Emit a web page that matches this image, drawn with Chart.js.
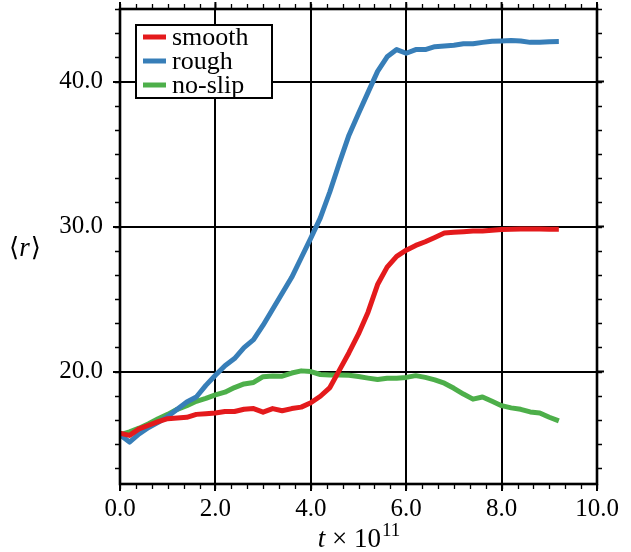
<!DOCTYPE html>
<html lang="en">
<head>
    <meta charset="UTF-8">
    <title>Mean radius over time</title>
    <style>
        html, body {
            margin: 0;
            padding: 0;
            background: #fff;
        }
        #wrap {
            width: 631px;
            height: 552px;
        }
    </style>
    <script src="https://cdn.jsdelivr.net/npm/chart.js"></script>
</head>
<body>
    <div id="wrap"><canvas id="radiusChart" width="631" height="552"></canvas></div>
    <script>
        // time axis (units of 10^11)
        const times = [0.0, 0.2, 0.4, 0.6, 0.8, 1.0, 1.2, 1.4, 1.6, 1.8,
                       2.0, 2.2, 2.4, 2.6, 2.8, 3.0, 3.2, 3.4, 3.6, 3.8,
                       4.0, 4.2, 4.4, 4.6, 4.8, 5.0, 5.2, 5.4, 5.6, 5.8,
                       6.0, 6.2, 6.4, 6.6, 6.8, 7.0, 7.2, 7.4, 7.6, 7.8,
                       8.0, 8.2, 8.4, 8.6, 8.8, 9.0, 9.2];

        const smooth = [15.76, 15.6, 16.05, 16.3, 16.55, 16.75, 16.8, 16.85, 17.05, 17.1,
                        17.15, 17.25, 17.25, 17.4, 17.45, 17.2, 17.45, 17.3, 17.45, 17.55,
                        17.85, 18.3, 18.9, 20.1, 21.3, 22.6, 24.1, 26.0, 27.2, 27.95,
                        28.37, 28.7, 28.95, 29.25, 29.55, 29.6, 29.65, 29.7, 29.7, 29.75,
                        29.8, 29.82, 29.84, 29.84, 29.83, 29.82, 29.82];

        const rough = [15.64, 15.14, 15.7, 16.15, 16.5, 16.9, 17.4, 17.9, 18.25, 19.05,
                       19.75, 20.4, 20.9, 21.65, 22.2, 23.2, 24.3, 25.4, 26.5, 27.85,
                       29.2, 30.6, 32.4, 34.4, 36.3, 37.8, 39.25, 40.7, 41.7, 42.2,
                       41.95, 42.2, 42.2, 42.4, 42.45, 42.5, 42.6, 42.6, 42.7, 42.78,
                       42.8, 42.83, 42.8, 42.7, 42.7, 42.75, 42.76];

        const noSlip = [15.64, 15.85, 16.1, 16.4, 16.75, 17.05, 17.4, 17.65, 17.95, 18.15,
                        18.4, 18.58, 18.9, 19.15, 19.25, 19.65, 19.7, 19.68, 19.9, 20.05,
                        20.0, 19.8, 19.77, 19.77, 19.75, 19.66, 19.55, 19.45, 19.54, 19.54,
                        19.6, 19.72, 19.6, 19.43, 19.2, 18.85, 18.45, 18.1, 18.25, 17.95,
                        17.65, 17.5, 17.4, 17.22, 17.15, 16.85, 16.6];

        const seriesNames = ['smooth', 'rough', 'no-slip'];
        const seriesColors = ['#e41a1c', '#377eb8', '#4daf4a'];

        const xTicks = [0, 2, 4, 6, 8, 10];
        const yTicks = [20, 30, 40];
        const xMinorStep = 1 / 3;
        const yMinorStep = 5 / 3;

        const serif = "'Liberation Serif', 'DejaVu Serif', serif";

        const toPoints = (ys) => ys.map((v, i) => ({ x: times[i], y: v }));

        // frame, minor ticks, axis titles and the inset legend
        const decorations = {
            id: 'decorations',
            afterDraw(chart) {
                const { ctx, chartArea: a, scales: { x, y } } = chart;
                ctx.save();
                ctx.strokeStyle = '#000';

                // minor ticks, all four sides, pointing out
                ctx.lineWidth = 1.3;
                ctx.beginPath();
                for (let i = 0; i <= 30; i++) {
                    const px = Math.round(x.getPixelForValue(i * xMinorStep)) + 0.5;
                    ctx.moveTo(px, a.bottom); ctx.lineTo(px, a.bottom + 5);
                    ctx.moveTo(px, a.top); ctx.lineTo(px, a.top - 5);
                }
                for (let i = 0; i <= 20; i++) {
                    const v = 45 - i * yMinorStep;
                    if (v < y.min) break;
                    const py = Math.round(y.getPixelForValue(v)) + 0.5;
                    ctx.moveTo(a.left, py); ctx.lineTo(a.left - 5, py);
                    ctx.moveTo(a.right, py); ctx.lineTo(a.right + 5, py);
                }
                ctx.stroke();

                // major ticks on top and right
                ctx.lineWidth = 2;
                ctx.beginPath();
                xTicks.forEach(v => {
                    const px = x.getPixelForValue(v);
                    ctx.moveTo(px, a.top); ctx.lineTo(px, a.top - 7);
                });
                yTicks.forEach(v => {
                    const py = y.getPixelForValue(v);
                    ctx.moveTo(a.right, py); ctx.lineTo(a.right + 7, py);
                });
                ctx.stroke();

                // frame
                ctx.lineWidth = 2.6;
                ctx.strokeRect(a.left, a.top, a.right - a.left, a.bottom - a.top);

                // x title: t x 10^11
                ctx.fillStyle = '#000';
                ctx.textBaseline = 'alphabetic';
                const f1 = 'italic 27px ' + serif;
                const f2 = '27px ' + serif;
                const f3 = '19px ' + serif;
                ctx.font = f1; const w1 = ctx.measureText('t').width;
                ctx.font = f2; const w2 = ctx.measureText(' \u00d7 10').width;
                ctx.font = f3; const w3 = ctx.measureText('11').width;
                let tx = (a.left + a.right) / 2 - (w1 + w2 + w3) / 2;
                const ty = 547;
                ctx.font = f1; ctx.fillText('t', tx, ty); tx += w1;
                ctx.font = f2; ctx.fillText(' \u00d7 10', tx, ty); tx += w2;
                ctx.font = f3; ctx.fillText('11', tx + 1, ty - 11);

                // y title: <r>
                const yy = 256;
                let lx = 9;
                ctx.font = "26px 'DejaVu Serif', serif";
                ctx.fillText('\u27e8', lx, yy); lx += ctx.measureText('\u27e8').width;
                ctx.font = f1;
                ctx.fillText('r', lx, yy); lx += ctx.measureText('r').width + 1;
                ctx.font = "26px 'DejaVu Serif', serif";
                ctx.fillText('\u27e9', lx, yy);

                // legend box
                const bx = 136, by = 25, bw = 136, bh = 73;
                ctx.fillStyle = '#fff';
                ctx.fillRect(bx, by, bw, bh);
                ctx.lineWidth = 2;
                ctx.strokeStyle = '#000';
                ctx.strokeRect(bx, by, bw, bh);
                ctx.font = '26px ' + serif;
                ctx.textBaseline = 'middle';
                seriesNames.forEach((name, i) => {
                    const rowY = by + 12 + i * 24;
                    ctx.strokeStyle = seriesColors[i];
                    ctx.lineWidth = 5;
                    ctx.beginPath();
                    ctx.moveTo(143, rowY); ctx.lineTo(166, rowY);
                    ctx.stroke();
                    ctx.fillStyle = '#000';
                    ctx.fillText(name, 172, rowY + 1);
                });
                ctx.restore();
            }
        };

        const ctx = document.getElementById('radiusChart').getContext('2d');
        const radiusChart = new Chart(ctx, {
            type: 'line',
            data: {
                datasets: [
                    { label: seriesNames[0], data: toPoints(smooth), borderColor: seriesColors[0] },
                    { label: seriesNames[1], data: toPoints(rough), borderColor: seriesColors[1] },
                    { label: seriesNames[2], data: toPoints(noSlip), borderColor: seriesColors[2] }
                ]
            },
            options: {
                responsive: false,
                animation: false,
                events: [],
                layout: { padding: { top: 9, right: 34, left: 0, bottom: 0 } },
                elements: {
                    line: { borderWidth: 5, tension: 0, borderJoinStyle: 'round', borderCapStyle: 'butt' },
                    point: { radius: 0 }
                },
                plugins: {
                    legend: { display: false },
                    tooltip: { enabled: false }
                },
                scales: {
                    x: {
                        type: 'linear',
                        min: 0,
                        max: 10,
                        afterBuildTicks: (s) => { s.ticks = xTicks.map(v => ({ value: v })); },
                        afterFit: (s) => {
                            s.height = 68;
                            s.paddingLeft = 0;
                            s.paddingRight = 0;
                        },
                        border: { display: false },
                        grid: { color: '#000', lineWidth: 2, tickLength: 7 },
                        ticks: {
                            color: '#000',
                            padding: 3,
                            maxRotation: 0,
                            font: { family: serif, size: 25 },
                            callback: (v) => Number(v).toFixed(1)
                        }
                    },
                    y: {
                        type: 'linear',
                        min: 12.25,
                        max: 45,
                        afterBuildTicks: (s) => { s.ticks = yTicks.map(v => ({ value: v })); },
                        afterFit: (s) => {
                            s.width = 120;
                            s.paddingTop = 0;
                            s.paddingBottom = 0;
                        },
                        border: { display: false },
                        grid: { color: '#000', lineWidth: 2, tickLength: 7 },
                        ticks: {
                            color: '#000',
                            padding: 10,
                            font: { family: serif, size: 25 },
                            callback: (v) => Number(v).toFixed(1)
                        }
                    }
                }
            },
            plugins: [decorations]
        });
    </script>
</body>
</html>
